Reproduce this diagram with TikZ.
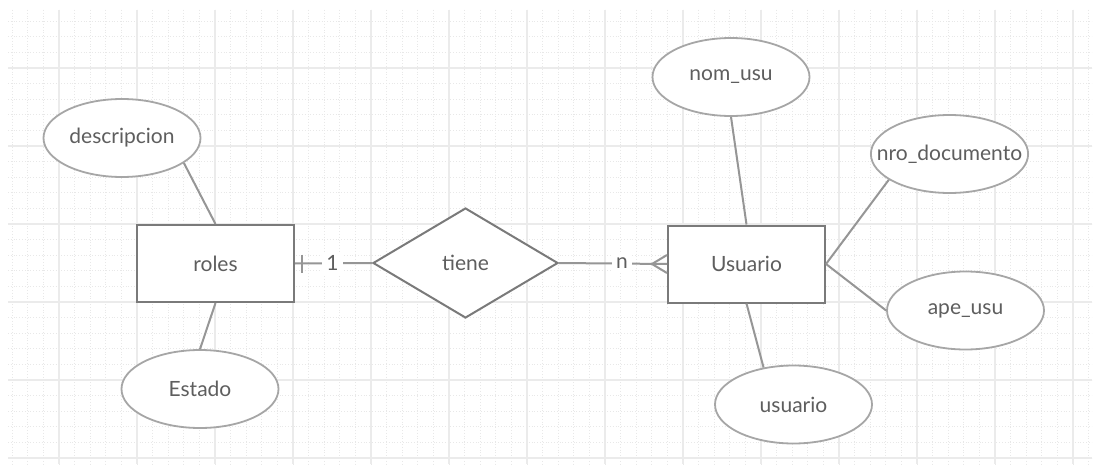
\documentclass[tikz,border=0pt]{standalone}
\usepackage{fontspec}
\setmainfont{Lato}
\usepackage{xcolor}
\usetikzlibrary{shapes.geometric,positioning}

\definecolor{gridmajor}{HTML}{EBEBEB}
\definecolor{gridminor}{HTML}{E8E8E8}
\definecolor{boxgray}{HTML}{7A7A7A}
\definecolor{ovalgray}{HTML}{A6A6A6}
\definecolor{linegray}{HTML}{969696}
\definecolor{textgray}{HTML}{5E5E5E}

\begin{document}
\begin{tikzpicture}[x=1pt, y=-1pt,
    entity/.style={rectangle, draw=boxgray, line width=2pt, fill=white, minimum width=157pt, minimum height=77pt, text=textgray, font=\fontsize{21}{25}\selectfont},
    attrib/.style={ellipse, draw=ovalgray, line width=1.8pt, fill=white, minimum width=157pt, minimum height=78pt, inner sep=0pt, text=textgray, font=\fontsize{21}{25}\selectfont},
    relation/.style={diamond, draw=boxgray, line width=2pt, fill=white, minimum width=185pt, minimum height=110pt, inner sep=0pt, text=textgray, font=\fontsize{21}{25}\selectfont},
    link/.style={draw=linegray, line width=2pt},
    card/.style={fill=white, inner sep=4pt, text=textgray, font=\fontsize{21}{25}\selectfont}
]
\useasboundingbox[fill=white] (0,0) rectangle (1100,468);

% Grid
\begin{scope}
\clip (8,10) rectangle (1092,464);
\foreach \i in {-3,...,69} \draw[gridminor, dotted, line width=0.8pt] (59+15.6*\i,10) -- (59+15.6*\i,464);
\foreach \j in {-4,...,25} \draw[gridminor, dotted, line width=0.8pt] (8,68+15.6*\j) -- (1092,68+15.6*\j);
\foreach \i in {0,...,13} \draw[gridmajor, line width=2pt] (59+78*\i,10) -- (59+78*\i,464);
\foreach \j in {0,...,5} \draw[gridmajor, line width=2pt] (8,68+78*\j) -- (1092,68+78*\j);
\end{scope}

% Entities and relationship
\node[entity] (roles) at (215.5,263.5) {roles};
\node[entity] (user) at (746.5,264) {Usuario};
\node[relation] (tiene) at (465.5,263) {tiene};

% Attributes
\node[attrib] (desc) at (122,138) {descripcion};
\node[attrib] (estado) at (200,389) {Estado};
\node[attrib] (nomusu) at (731,77) {nom\_usu};
\node[attrib, inner xsep=-17pt] (nrodoc) at (949.5,154) {nro\_documento};
\node[attrib] (apeusu) at (965.5,310.5) {ape\_usu};
\node[attrib] (usuario) at (793.5,404.5) {usuario};

% Attribute links
\draw[link] (desc.-22) -- (roles.north);
\draw[link] (estado.north) -- (roles.south);
\draw[link] (nomusu.south) -- (user.north);
\draw[link] (nrodoc.-157) -- (user.east);
\draw[link] (apeusu.west) -- (user.east);
\draw[link] (usuario.129) -- (user.south);

% Relationship links with cardinality
\draw[link] (roles.east) -- node[card, xshift=-1pt] {1} (tiene.west);
\draw[link] ([xshift=7pt]roles.east) ++(0,-9) -- ++(0,18);
\draw[link] (tiene.east) -- node[card, xshift=9pt] {n} (user.west);
\draw[link] ([yshift=9pt]user.west) -- ([xshift=-15pt]user.west) -- ([yshift=-9pt]user.west);

\end{tikzpicture}
\end{document}
